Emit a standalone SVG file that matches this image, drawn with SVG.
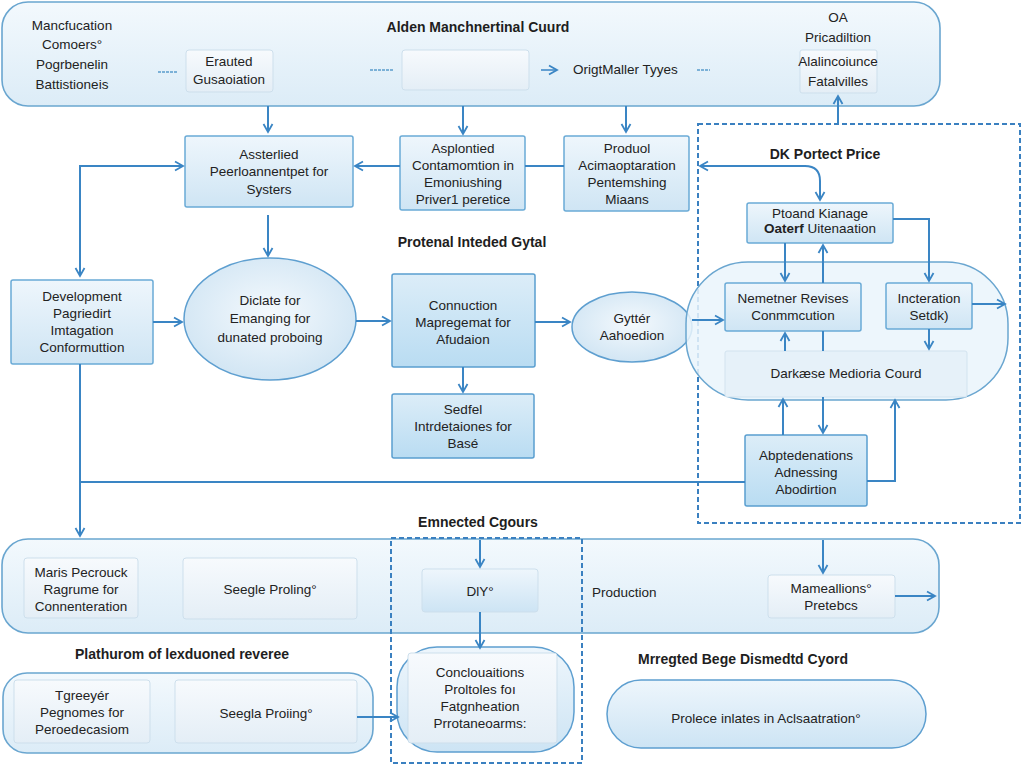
<svg xmlns="http://www.w3.org/2000/svg" width="1024" height="768" viewBox="0 0 1024 768">
<defs>
  <linearGradient id="band" x1="0" y1="0" x2="0" y2="1">
    <stop offset="0" stop-color="#f3f9fd"/><stop offset="1" stop-color="#dcecf7"/>
  </linearGradient>
  <linearGradient id="box" x1="0" y1="0" x2="0" y2="1">
    <stop offset="0" stop-color="#eef6fc"/><stop offset="1" stop-color="#cfe5f4"/>
  </linearGradient>
  <linearGradient id="boxd" x1="0" y1="0" x2="0" y2="1">
    <stop offset="0" stop-color="#dcedf8"/><stop offset="1" stop-color="#b9dcf2"/>
  </linearGradient>
  <linearGradient id="inner" x1="0" y1="0" x2="0" y2="1">
    <stop offset="0" stop-color="#f7fafd"/><stop offset="1" stop-color="#e4eef6"/>
  </linearGradient>
  <radialGradient id="ell" cx="0.5" cy="0.45" r="0.6">
    <stop offset="0" stop-color="#f4f9fd"/><stop offset="1" stop-color="#cfe4f3"/>
  </radialGradient>
  <linearGradient id="pill" x1="0" y1="0" x2="0" y2="1">
    <stop offset="0" stop-color="#eef6fc"/><stop offset="1" stop-color="#cde4f4"/>
  </linearGradient>
  <marker id="ah" viewBox="0 0 12 12" refX="10" refY="6" markerWidth="12" markerHeight="12" markerUnits="userSpaceOnUse" orient="auto-start-reverse">
    <path d="M2,1.5 L10,6 L2,10.5" fill="none" stroke="#3a85c4" stroke-width="1.8"/>
  </marker>
  <style>
    .t{font-family:"Liberation Sans",Arial,sans-serif;font-size:13.5px;fill:#222;text-anchor:middle}
    .l{text-anchor:start}
    .h{font-family:"Liberation Sans",Arial,sans-serif;font-size:14px;font-weight:bold;fill:#1e1e1e;text-anchor:middle}
    .band{fill:url(#band);stroke:#6aa6d0;stroke-width:1.6}
    .bx{fill:url(#box);stroke:#6aaad6;stroke-width:1.5}
    .bd{fill:url(#boxd);stroke:#5a9ed0;stroke-width:1.5}
    .in{fill:url(#inner);stroke:#cddfec;stroke-width:1}
    .el{fill:url(#ell);stroke:#5e9fd0;stroke-width:1.5}
    .dash{fill:none;stroke:#3a80c0;stroke-width:2;stroke-dasharray:5 3}
    .c{fill:none;stroke:#3a85c4;stroke-width:2}
    .ca{fill:none;stroke:#3a85c4;stroke-width:2;marker-end:url(#ah)}
    .cb{fill:none;stroke:#3a85c4;stroke-width:2;marker-end:url(#ah);marker-start:url(#ah)}
    .sd{fill:none;stroke:#5a9ccc;stroke-width:1.5;stroke-dasharray:3 1}
  </style>
</defs>
<rect width="1024" height="768" fill="#ffffff"/>

<!-- Top band -->
<g id="top-band">
  <rect class="band" x="2" y="2" width="938" height="104" rx="26"/>
  <text class="h" x="478" y="32">Alden Manchnertinal Cuurd</text>
  <text class="t" x="72" y="30">Mancfucation</text>
  <text class="t" x="72" y="49">Comoers°</text>
  <text class="t" x="72" y="69">Pogrbenelin</text>
  <text class="t" x="72" y="89">Battistioneis</text>
  <text class="t" x="838" y="22">OA</text>
  <text class="t" x="838" y="42">Pricadiltion</text>
  <text class="t l" x="573" y="74">OrigtMaller Tyyes</text>
</g>
<g id="n-erauted">
  <rect class="in" x="186" y="50" width="87" height="42" rx="3"/>
  <text class="t" x="229" y="66">Erauted</text>
  <text class="t" x="229" y="84">Gusaoiation</text>
</g>
<g id="n-empty">
  <rect class="in" x="402" y="50" width="127" height="40" rx="3"/>
</g>
<g id="n-alalin">
  <rect class="in" x="800" y="50" width="77" height="43" rx="2"/>
  <text class="t" x="838" y="66">Alalincoiunce</text>
  <text class="t" x="838" y="86">Fatalvilles</text>
</g>

<!-- Row 2 -->
<g id="n-assterlied">
  <rect class="bx" x="185" y="136" width="168" height="71" rx="2"/>
  <text class="t" x="269" y="159">Assterlied</text>
  <text class="t" x="269" y="176">Peerloannentpet for</text>
  <text class="t" x="269" y="194">Systers</text>
</g>
<g id="n-asplontied">
  <rect class="bx" x="400" y="136" width="125" height="74" rx="2"/>
  <text class="t" x="463" y="153">Asplontied</text>
  <text class="t" x="463" y="170">Contamomtion in</text>
  <text class="t" x="463" y="187">Emoniushing</text>
  <text class="t" x="463" y="204">Priver1 peretice</text>
</g>
<g id="n-produol">
  <rect class="bx" x="564" y="136" width="125" height="75" rx="2"/>
  <text class="t" x="627" y="153">Produol</text>
  <text class="t" x="627" y="170">Acimaoptaration</text>
  <text class="t" x="627" y="187">Pentemshing</text>
  <text class="t" x="627" y="204">Miaans</text>
</g>
<g id="lbl-protenal">
  <text class="h" x="472" y="247">Protenal Inteded Gytal</text>
</g>

<!-- Row 3 -->
<g id="n-development">
  <rect class="bx" x="11" y="280" width="142" height="84" rx="2"/>
  <text class="t" x="82" y="301">Development</text>
  <text class="t" x="82" y="318">Pagriedirt</text>
  <text class="t" x="82" y="335">Imtagation</text>
  <text class="t" x="82" y="352">Conformuttion</text>
</g>
<g id="n-diclate">
  <ellipse class="el" cx="270" cy="319" rx="86" ry="61"/>
  <text class="t" x="270" y="305">Diclate for</text>
  <text class="t" x="270" y="323">Emanging for</text>
  <text class="t" x="270" y="342">dunated proboing</text>
</g>
<g id="n-connection">
  <rect class="bd" x="392" y="274" width="143" height="93" rx="2"/>
  <text class="t" x="463" y="310">Connuction</text>
  <text class="t" x="463" y="327">Mapregemat for</text>
  <text class="t" x="463" y="344">Afudaion</text>
</g>
<g id="n-gytter">
  <ellipse class="el" cx="632" cy="327" rx="60" ry="35"/>
  <text class="t" x="632" y="323">Gyttér</text>
  <text class="t" x="632" y="340">Aahoedion</text>
</g>
<g id="n-sedfel">
  <rect class="bd" x="392" y="394" width="142" height="64" rx="2"/>
  <text class="t" x="463" y="414">Sedfel</text>
  <text class="t" x="463" y="431">Intrdetaiones for</text>
  <text class="t" x="463" y="448">Basé</text>
</g>

<!-- DK region -->
<g id="dk-region">
  <rect class="dash" x="698" y="124" width="322" height="399"/>
  <text class="h" x="825" y="159">DK Portect Price</text>
  <rect x="686" y="262" width="322" height="138" rx="62" fill="#eaf4fb" fill-opacity="0.85" stroke="#6aa6d0" stroke-width="1.5"/>
</g>
<g id="n-ptoand">
  <rect class="bx" x="747" y="203" width="146" height="40" rx="2"/>
  <text class="t" x="820" y="218">Ptoand Kianage</text>
  <text class="t" x="820" y="233"><tspan font-weight="bold">Oaterf</tspan> Uitenaation</text>
</g>
<g id="n-nemetner">
  <rect class="bx" x="725" y="283" width="136" height="48" rx="2"/>
  <text class="t" x="793" y="303">Nemetner Revises</text>
  <text class="t" x="793" y="320">Conmmcution</text>
</g>
<g id="n-incteration">
  <rect class="bx" x="886" y="283" width="86" height="46" rx="2"/>
  <text class="t" x="929" y="303">Incteration</text>
  <text class="t" x="929" y="320">Setdk)</text>
</g>
<g id="n-darkease">
  <rect class="in" x="725" y="351" width="242" height="46" rx="2" style="fill:#e6f1f9;stroke:#d2e3ef"/>
  <text class="t" x="846" y="378">Darkæse Medioria Courd</text>
</g>
<g id="n-abpted">
  <rect class="bd" x="745" y="435" width="122" height="71" rx="2"/>
  <text class="t" x="806" y="460">Abptedenations</text>
  <text class="t" x="806" y="477">Adnessing</text>
  <text class="t" x="806" y="494">Abodirtion</text>
</g>
<g id="lbl-emnected">
  <text class="h" x="478" y="527">Emnected Cgours</text>
</g>

<!-- Bottom band 1 -->
<g id="band-2">
  <rect class="band" x="2" y="539" width="937" height="94" rx="26"/>
  <text class="t l" x="592" y="597">Production</text>
</g>
<g id="n-maris">
  <rect class="in" x="24" y="558" width="114" height="60" rx="3"/>
  <text class="t" x="81" y="577">Maris Pecrouck</text>
  <text class="t" x="81" y="594">Ragrume for</text>
  <text class="t" x="81" y="611">Connenteration</text>
</g>
<g id="n-seegle">
  <rect class="in" x="183" y="558" width="174" height="61" rx="3"/>
  <text class="t" x="270" y="594">Seegle Proling°</text>
</g>
<g id="n-diy">
  <rect class="in" x="422" y="569" width="116" height="43" rx="3" style="fill:url(#pill)"/>
  <text class="t" x="480" y="596">DlY°</text>
</g>
<g id="n-mameallions">
  <rect class="in" x="768" y="575" width="127" height="43" rx="3"/>
  <text class="t" x="831" y="593">Mameallions°</text>
  <text class="t" x="831" y="610">Pretebcs</text>
</g>

<!-- Bottom band 2 -->
<g id="lbl-plathurom">
  <text class="h" x="182" y="659">Plathurom of lexduoned reveree</text>
</g>
<g id="band-3">
  <rect class="band" x="3" y="673" width="370" height="80" rx="24"/>
</g>
<g id="n-tgreeyer">
  <rect class="in" x="14" y="680" width="136" height="63" rx="3"/>
  <text class="t" x="82" y="700">Tgreeyér</text>
  <text class="t" x="82" y="717">Pegnomes for</text>
  <text class="t" x="82" y="734">Peroedecasiom</text>
</g>
<g id="n-seegla">
  <rect class="in" x="175" y="680" width="182" height="63" rx="3"/>
  <text class="t" x="266" y="718">Seegla Proiing°</text>
</g>
<g id="dashed-group">
  <rect class="dash" x="391" y="538" width="191" height="225"/>
</g>
<g id="n-conclouaitions">
  <rect x="397" y="647" width="177" height="105" rx="40" fill="url(#pill)" stroke="#5e9fd0" stroke-width="1.5"/>
  <rect class="in" x="408" y="653" width="149" height="90" rx="3"/>
  <text class="t" x="480" y="677">Conclouaitions</text>
  <text class="t" x="480" y="694">Proltoles foı</text>
  <text class="t" x="480" y="711">Fatgnheation</text>
  <text class="t" x="480" y="728">Prrotaneoarms:</text>
</g>
<g id="lbl-mrregted">
  <text class="h" x="743" y="664">Mrregted Bege Dismedtd Cyord</text>
</g>
<g id="n-prolece">
  <rect x="607" y="680" width="319" height="68" rx="34" fill="url(#pill)" stroke="#5e9fd0" stroke-width="1.5"/>
  <text class="t" x="766" y="723">Prolece inlates in Aclsaatration°</text>
</g>

<!-- Connectors -->
<g id="connectors">
  <path class="sd" d="M158,72 H178"/>
  <path class="sd" d="M370,70 H393"/>
  <path class="ca" d="M541,70 H557" style="stroke-width:1.5"/>
  <path class="sd" d="M697,70 H710"/>
  <path class="ca" d="M268,106 V132"/>
  <path class="ca" d="M463,106 V134"/>
  <path class="ca" d="M626,106 V132"/>
  <path class="ca" d="M838,124 V96"/>
  <path class="c" d="M525,166 H564"/>
  <path class="ca" d="M400,166 H355"/>
  <path class="cb" d="M700,166 H805 Q820,166 820,181 V200"/>
  <path class="cb" d="M80,276 V166 H183"/>
  <path class="ca" d="M268,215 V256"/>
  <path class="ca" d="M153,322 H182"/>
  <path class="ca" d="M356,321 H390"/>
  <path class="ca" d="M535,322 H570"/>
  <path class="ca" d="M692,320 H723"/>
  <path class="ca" d="M463,367 V392"/>
  <path class="c" d="M80,364 V482 H745"/>
  <path class="ca" d="M80,482 V536"/>
  <path class="ca" d="M785,243 V281"/>
  <path class="ca" d="M823,283 V245"/>
  <path class="c" d="M823,331 V351"/>
  <path class="ca" d="M785,351 V333"/>
  <path class="ca" d="M893,219 H929 V281"/>
  <path class="ca" d="M929,329 V349"/>
  <path class="ca" d="M972,304 H1005"/>
  <path class="ca" d="M783,435 V399"/>
  <path class="ca" d="M823,397 V433"/>
  <path class="ca" d="M867,481 H895 V400"/>
  <path class="ca" d="M480,540 V567"/>
  <path class="ca" d="M480,612 V648"/>
  <path class="ca" d="M823,540 V573"/>
  <path class="ca" d="M895,596 H935"/>
  <path class="ca" d="M357,717 H398"/>
</g>
</svg>
